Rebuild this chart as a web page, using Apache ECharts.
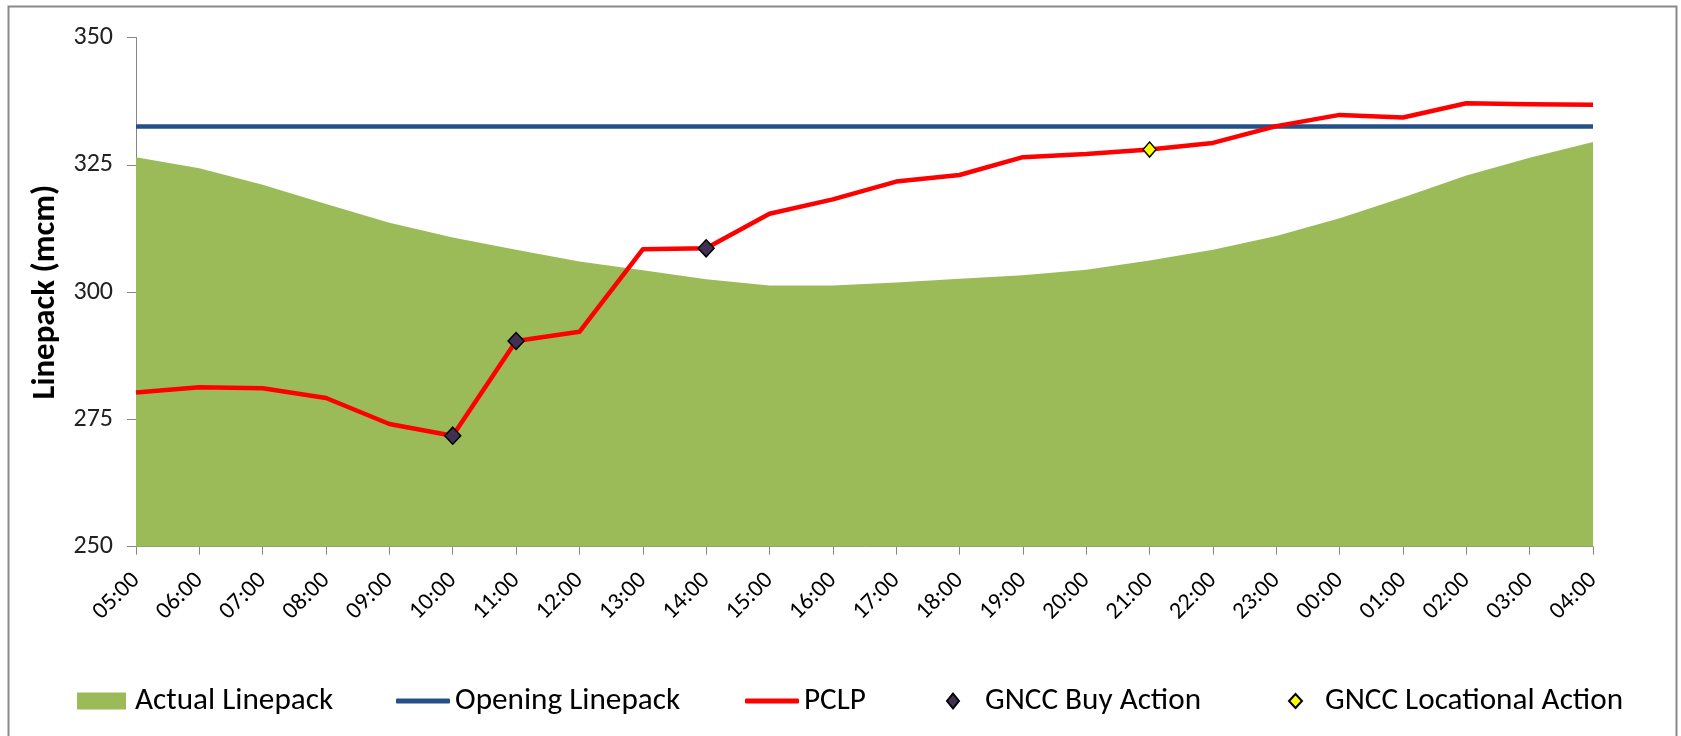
<!DOCTYPE html>
<html>
<head>
<meta charset="utf-8">
<script src="https://cdn.jsdelivr.net/npm/echarts@6/dist/echarts.min.js"></script>
<style>
html,body{margin:0;padding:0;background:#fff;}
#c{width:1681px;height:736px;}
</style>
</head>
<body>
<div id="c"></div>
<script>
var hours = ['05:00','06:00','07:00','08:00','09:00','10:00','11:00','12:00','13:00','14:00','15:00','16:00','17:00','18:00','19:00','20:00','21:00','22:00','23:00','00:00','01:00','02:00','03:00','04:00'];
var actualLinepack = [326.5,324.3,321.1,317.3,313.6,310.7,308.3,306.0,304.3,302.5,301.3,301.3,301.9,302.6,303.3,304.4,306.2,308.3,311.0,314.5,318.6,322.9,326.4,329.5];
var openingLinepack = [332.5,332.5,332.5,332.5,332.5,332.5,332.5,332.5,332.5,332.5,332.5,332.5,332.5,332.5,332.5,332.5,332.5,332.5,332.5,332.5,332.5,332.5,332.5,332.5];
var pclp = [280.3,281.3,281.1,279.2,274.1,271.8,290.4,292.2,308.4,308.6,315.4,318.2,321.7,323.0,326.5,327.1,328.0,329.3,332.6,334.8,334.3,337.1,336.9,336.8];
var buyActionTimes = ['10:00','11:00','14:00'];
var buyActionValues = [271.8,290.4,308.6];
var locActionTimes = ['21:00'];
var locActionValues = [328.0];
var yTicks = [250,275,300,325,350];

var FONT = 'Carlito, Lato, sans-serif';
var cv = document.createElement('canvas').getContext('2d');
function fit(text, target, weight){
  cv.font = (weight||'normal') + ' 100px ' + FONT;
  var w = cv.measureText(text).width;
  return Math.round(100*target/w*10)/10;
}
var tickFs = fit('350', 39.5);
var xFs = fit('05:00', 55);
var legFs = fit('Actual Linepack', 198);
var titleFs = fit('Linepack (mcm)', 215, 'bold');

var chart = echarts.init(document.getElementById('c'));
function pairs(t, v){ return t.map(function(x,i){ return [x, v[i]]; }); }
function leg(name, left, w, h, icon, pad){
  return {
    data:[{name:name, icon:icon}], left:left, top:696 - legFs/2, orient:'horizontal',
    itemWidth:w, itemHeight:h, selectedMode:false,
    textStyle:{fontFamily:FONT, fontSize:legFs, lineHeight:legFs, color:'#000', padding:[0,0,0,pad]}
  };
}
chart.setOption({
  animation:false,
  backgroundColor:'#fff',
  graphic:[{type:'rect', shape:{x:8.5,y:6.5,width:1668,height:750}, style:{fill:'none', stroke:'#898989', lineWidth:2}, silent:true}],
  grid:{left:136, right:88, top:37.5, bottom:189.3, containLabel:false},
  legend:[
    leg('Actual Linepack',72,49,17,'rect',4),
    leg('Opening Linepack',391,54,5,'roundRect',0),
    leg('PCLP',740,54,5,'roundRect',0),
    leg('GNCC Buy Action',941,12,15,'diamond',21),
    leg('GNCC Locational Action',1283,13,14,'diamond',18)
  ],
  xAxis:{
    type:'category', data:hours, boundaryGap:false,
    axisLine:{lineStyle:{color:'#868686', width:1}},
    axisTick:{show:true, length:8, alignWithLabel:true, lineStyle:{color:'#868686'}},
    axisLabel:{rotate:45, fontFamily:FONT, fontSize:xFs, color:'#000', margin:30, interval:0},
    splitLine:{show:false}
  },
  yAxis:{
    type:'value', min:250, max:350, interval:25,
    name:'Linepack (mcm)', nameLocation:'middle', nameGap:136 - 47 - titleFs/2, nameRotate:90,
    nameTextStyle:{fontFamily:FONT, fontSize:titleFs, fontWeight:'bold', color:'#000'},
    axisLine:{show:true, lineStyle:{color:'#868686', width:1}},
    axisTick:{show:true, length:9, lineStyle:{color:'#868686'}},
    axisLabel:{fontFamily:FONT, fontSize:tickFs, color:'#222', margin:23,
      formatter:function(v){ return yTicks.indexOf(v)>=0 ? String(v) : ''; }},
    splitLine:{show:false}
  },
  series:[
    {name:'Actual Linepack', type:'line', data:actualLinepack, showSymbol:false, symbol:'none',
     lineStyle:{width:0, color:'#9BBB59'}, itemStyle:{color:'#9BBB59'},
     areaStyle:{color:'#9BBB59', opacity:1, origin:'start'}, z:1},
    {name:'Opening Linepack', type:'line', data:openingLinepack, showSymbol:false, symbol:'none',
     lineStyle:{width:4.5, color:'#24508A'}, itemStyle:{color:'#24508A'}, z:2},
    {name:'PCLP', type:'line', data:pclp, showSymbol:false, symbol:'none',
     lineStyle:{width:4.5, color:'#FF0000', join:'round'}, itemStyle:{color:'#FF0000'}, z:3},
    {name:'GNCC Buy Action', type:'scatter', data:pairs(buyActionTimes, buyActionValues),
     symbol:'diamond', symbolSize:[16,17], itemStyle:{color:'#403152', borderColor:'#000', borderWidth:1.5, opacity:1}, z:4},
    {name:'GNCC Locational Action', type:'scatter', data:pairs(locActionTimes, locActionValues),
     symbol:'diamond', symbolSize:[13,15], itemStyle:{color:'#FFFF00', borderColor:'#000', borderWidth:1.5, opacity:1}, z:4}
  ]
});
</script>
</body>
</html>
